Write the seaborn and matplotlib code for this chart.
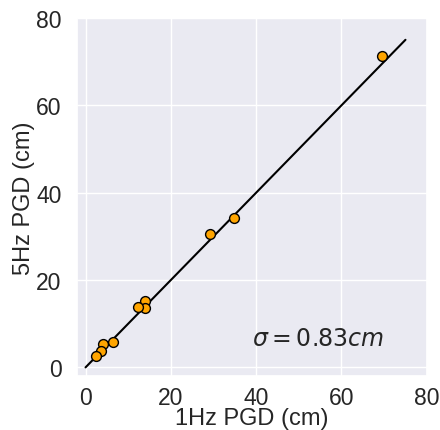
import numpy as np
import pandas as pd
import matplotlib
matplotlib.use("Agg")
import matplotlib.pyplot as plt
import seaborn as sns

pgd_1hz = [69.4, 34.8, 29.2, 13.9, 13.9, 12.3, 6.4, 4.1, 3.7, 2.35]
pgd_5hz = [71.2, 34.1, 30.5, 15.1, 13.5, 13.9, 5.7, 5.3, 3.8, 2.7]
line_ends = [0, 75]
sigma_text = r"$\sigma = 0.83cm$"

sns.set_theme(style="darkgrid")
plt.rcParams['font.family'] = ['Liberation Sans', 'DejaVu Sans']

fig = plt.figure(figsize=(4.4, 4.31), dpi=100)
ax = fig.add_axes([0.175, 0.125, 0.795, 0.831])

ax.plot(line_ends, line_ends, color="black", lw=1.5, zorder=2)
df = pd.DataFrame({"x": pgd_1hz, "y": pgd_5hz})
sns.scatterplot(data=df, x="x", y="y", ax=ax, color="orange", edgecolor="black",
                linewidth=1.0, s=50, zorder=3)

ax.set_xlim(-2, 80)
ax.set_ylim(-2, 80)
ax.set_xticks([0, 20, 40, 60, 80])
ax.set_yticks([0, 20, 40, 60, 80])
ax.tick_params(axis="x", labelsize=16.5, colors="#262626", pad=1)
ax.tick_params(axis="y", labelsize=16.5, colors="#262626", pad=5)
ax.set_xlabel("1Hz PGD (cm)", fontsize=17, color="#262626", labelpad=-1)
ax.set_ylabel("5Hz PGD (cm)", fontsize=17, color="#262626", labelpad=1)
ax.text(39, 6.6, sigma_text, fontsize=17, color="#262626", va="center", ha="left")

fig.savefig("out.png", dpi=100)
